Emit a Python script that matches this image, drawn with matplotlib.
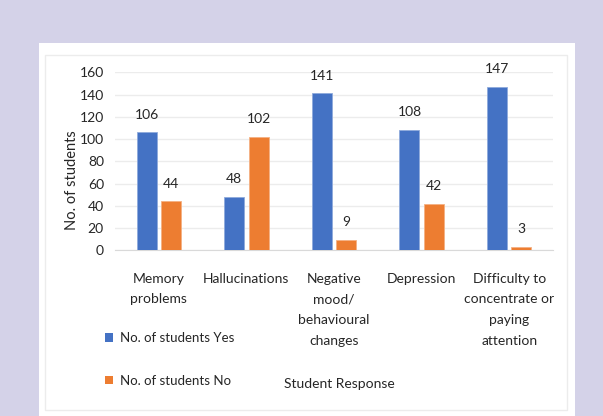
import matplotlib
matplotlib.use('Agg')
import matplotlib.pyplot as plt
import numpy as np
from matplotlib.patches import Rectangle, Patch


# Data
categories = ['Memory\nproblems', 'Hallucinations', 'Negative\nmood/\nbehavioural\nchanges',
              'Depression', 'Difficulty to\nconcentrate or\npaying\nattention']
yes_counts = [106, 48, 141, 108, 147]
no_counts = [44, 102, 9, 42, 3]
series_names = ['No. of students Yes', 'No. of students No']
y_ticks = [0, 20, 40, 60, 80, 100, 120, 140, 160]

plt.rcParams['font.family'] = ['Lato', 'DejaVu Sans']

W, H = 603, 416
fig = plt.figure(figsize=(W / 100, H / 100), dpi=100)
fig.patch.set_facecolor('#d4d2e8')


def fx(px):
    return px / W


def fy(py):
    return 1 - py / H


# White panel and faint inner border
fig.patches.append(Rectangle((fx(39), 0), fx(575) - fx(39), fy(43), transform=fig.transFigure,
                             facecolor='white', edgecolor='none', zorder=0))
fig.patches.append(Rectangle((fx(45), fy(410)), fx(567) - fx(45), fy(55) - fy(410),
                             transform=fig.transFigure, facecolor='none', edgecolor='#ececec',
                             lw=1, zorder=1))

# Axes
ax = fig.add_axes([fx(115), fy(250.3), fx(553) - fx(115), fy(72.3) - fy(250.3)])
ax.set_facecolor('none')
ax.set_zorder(5)

x = np.arange(len(categories))
bw = 0.229
off = 0.139
blue, orange = '#4472c4', '#ed7d31'
bars_yes = ax.bar(x - off, yes_counts, bw, color=blue, edgecolor='#8faadc', lw=0.6, zorder=3)
bars_no = ax.bar(x + off, no_counts, bw, color=orange, edgecolor='#f4b183', lw=0.6, zorder=3)

for bars, vals in [(bars_yes, yes_counts), (bars_no, no_counts)]:
    for b, v in zip(bars, vals):
        ax.annotate(str(v), (b.get_x() + b.get_width() / 2, v), xytext=(0, 8.5),
                    textcoords='offset points', ha='center', va='bottom', fontsize=10,
                    color='#262626')

ax.set_xlim(-0.5, len(categories) - 0.5)
ax.set_ylim(0, 160)
ax.set_yticks(y_ticks)
ax.yaxis.grid(True, color='#ececec', lw=1, zorder=0)
ax.set_axisbelow(True)
for s in ['top', 'right', 'left']:
    ax.spines[s].set_visible(False)
ax.spines['bottom'].set_color('#d9d9d9')
ax.tick_params(axis='y', length=0, pad=8, labelsize=10, labelcolor='#262626')
ax.set_xticks(x)
ax.set_xticklabels(categories, fontsize=10, color='#262626', linespacing=1.88)
ax.tick_params(axis='x', length=0, pad=16)

# Axis titles
fig.text(fx(72), fy(180), 'No. of students', rotation=90, ha='center', va='center',
         fontsize=10.5, color='#262626', zorder=6)
fig.text(fx(339), fy(384), 'Student Response', ha='center', va='center',
         fontsize=10, color='#262626', zorder=6)

# Legend
handles = [Patch(facecolor=blue), Patch(facecolor=orange)]
leg = fig.legend(handles, series_names, loc='center left', bbox_to_anchor=(fx(105), fy(359.5)),
                 frameon=False, fontsize=9.5, handlelength=0.6, handleheight=0.6,
                 handletextpad=0.5, labelspacing=2.3, borderpad=0, borderaxespad=0,
                 labelcolor='#262626')
leg.set_zorder(6)

fig.savefig('out.png', dpi=100, facecolor=fig.get_facecolor())
